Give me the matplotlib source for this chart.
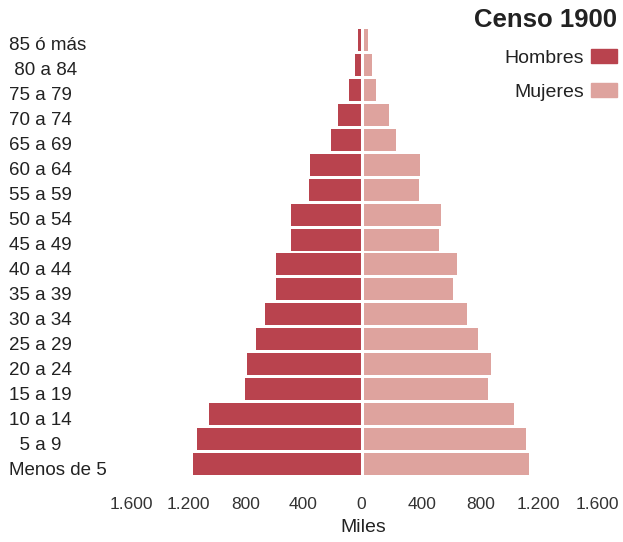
import matplotlib.pyplot as plt
from matplotlib.patches import Patch
from matplotlib.transforms import blended_transform_factory

plt.rcParams['font.family'] = ['Liberation Sans', 'DejaVu Sans']

# age groups, bottom to top
grupos = ['Menos de 5', '  5 a 9', '10 a 14', '15 a 19', '20 a 24', '25 a 29',
          '30 a 34', '35 a 39', '40 a 44', '45 a 49', '50 a 54', '55 a 59',
          '60 a 64', '65 a 69', '70 a 74', '75 a 79', ' 80 a 84', '85 ó más']
# thousands of people
hombres = [1169, 1141, 1058, 807, 793, 731, 668, 592, 592, 487, 487, 362,
           355, 209, 160, 84, 42, 20]
mujeres = [1133, 1112, 1030, 851, 872, 783, 707, 611, 639, 515, 529, 378,
           385, 220, 172, 82, 55, 27]
ticks = [0, 400, 800, 1200, 1600]
tick_labels = ['0', '400', '800', '1.200', '1.600']

c_h = '#b9434e'
c_m = '#dea39e'
txt = '#222222'

W, H = 623, 542
fig = plt.figure(figsize=(W / 100, H / 100), dpi=100)
bottom = 67 / H
height = 446 / H
ax_l = fig.add_axes([131 / W, bottom, 230 / W, height])
ax_r = fig.add_axes([364 / W, bottom, 233 / W, height])

y = list(range(len(grupos)))
bh = 0.88
ax_l.barh(y, hombres, height=bh, color=c_h)
ax_r.barh(y, mujeres, height=bh, color=c_m)

for ax in (ax_l, ax_r):
    ax.set_ylim(-bh / 2, len(grupos) - 1 + bh / 2)
    ax.set_xlim(0, 1600)
    ax.set_yticks([])
    for s in ax.spines.values():
        s.set_visible(False)
    ax.set_xticks(ticks)
    ax.tick_params(axis='x', length=0, pad=16, labelsize=12.5, labelcolor='#333333')
ax_l.invert_xaxis()
ax_l.set_xticklabels(tick_labels)
ax_r.set_xticklabels([''] + tick_labels[1:])

# category labels on the far left
tr = blended_transform_factory(fig.transFigure, ax_l.transData)
for yi, g in zip(y, grupos):
    fig.text(9 / W, yi - 0.24, g, transform=tr, ha='left', va='center',
             fontsize=13.5, color=txt)

fig.text(363 / W, 1 - 528 / H, 'Miles', ha='center', va='center',
         fontsize=14, color=txt)
fig.text(617 / W, 1 - 20 / H, 'Censo 1900', ha='right', va='center',
         fontsize=18.5, fontweight='bold', color=txt)

handles = [Patch(color=c_h), Patch(color=c_m)]
fig.legend(handles, ['Hombres', 'Mujeres'], loc='upper right',
           bbox_to_anchor=(617 / W, 1 - 49 / H), markerfirst=False,
           frameon=False, fontsize=14, handlelength=1.34, handleheight=0.77,
           handletextpad=0.35, labelspacing=0.8, borderaxespad=0,
           borderpad=0, labelcolor=txt)

fig.savefig('out.png', dpi=100)
